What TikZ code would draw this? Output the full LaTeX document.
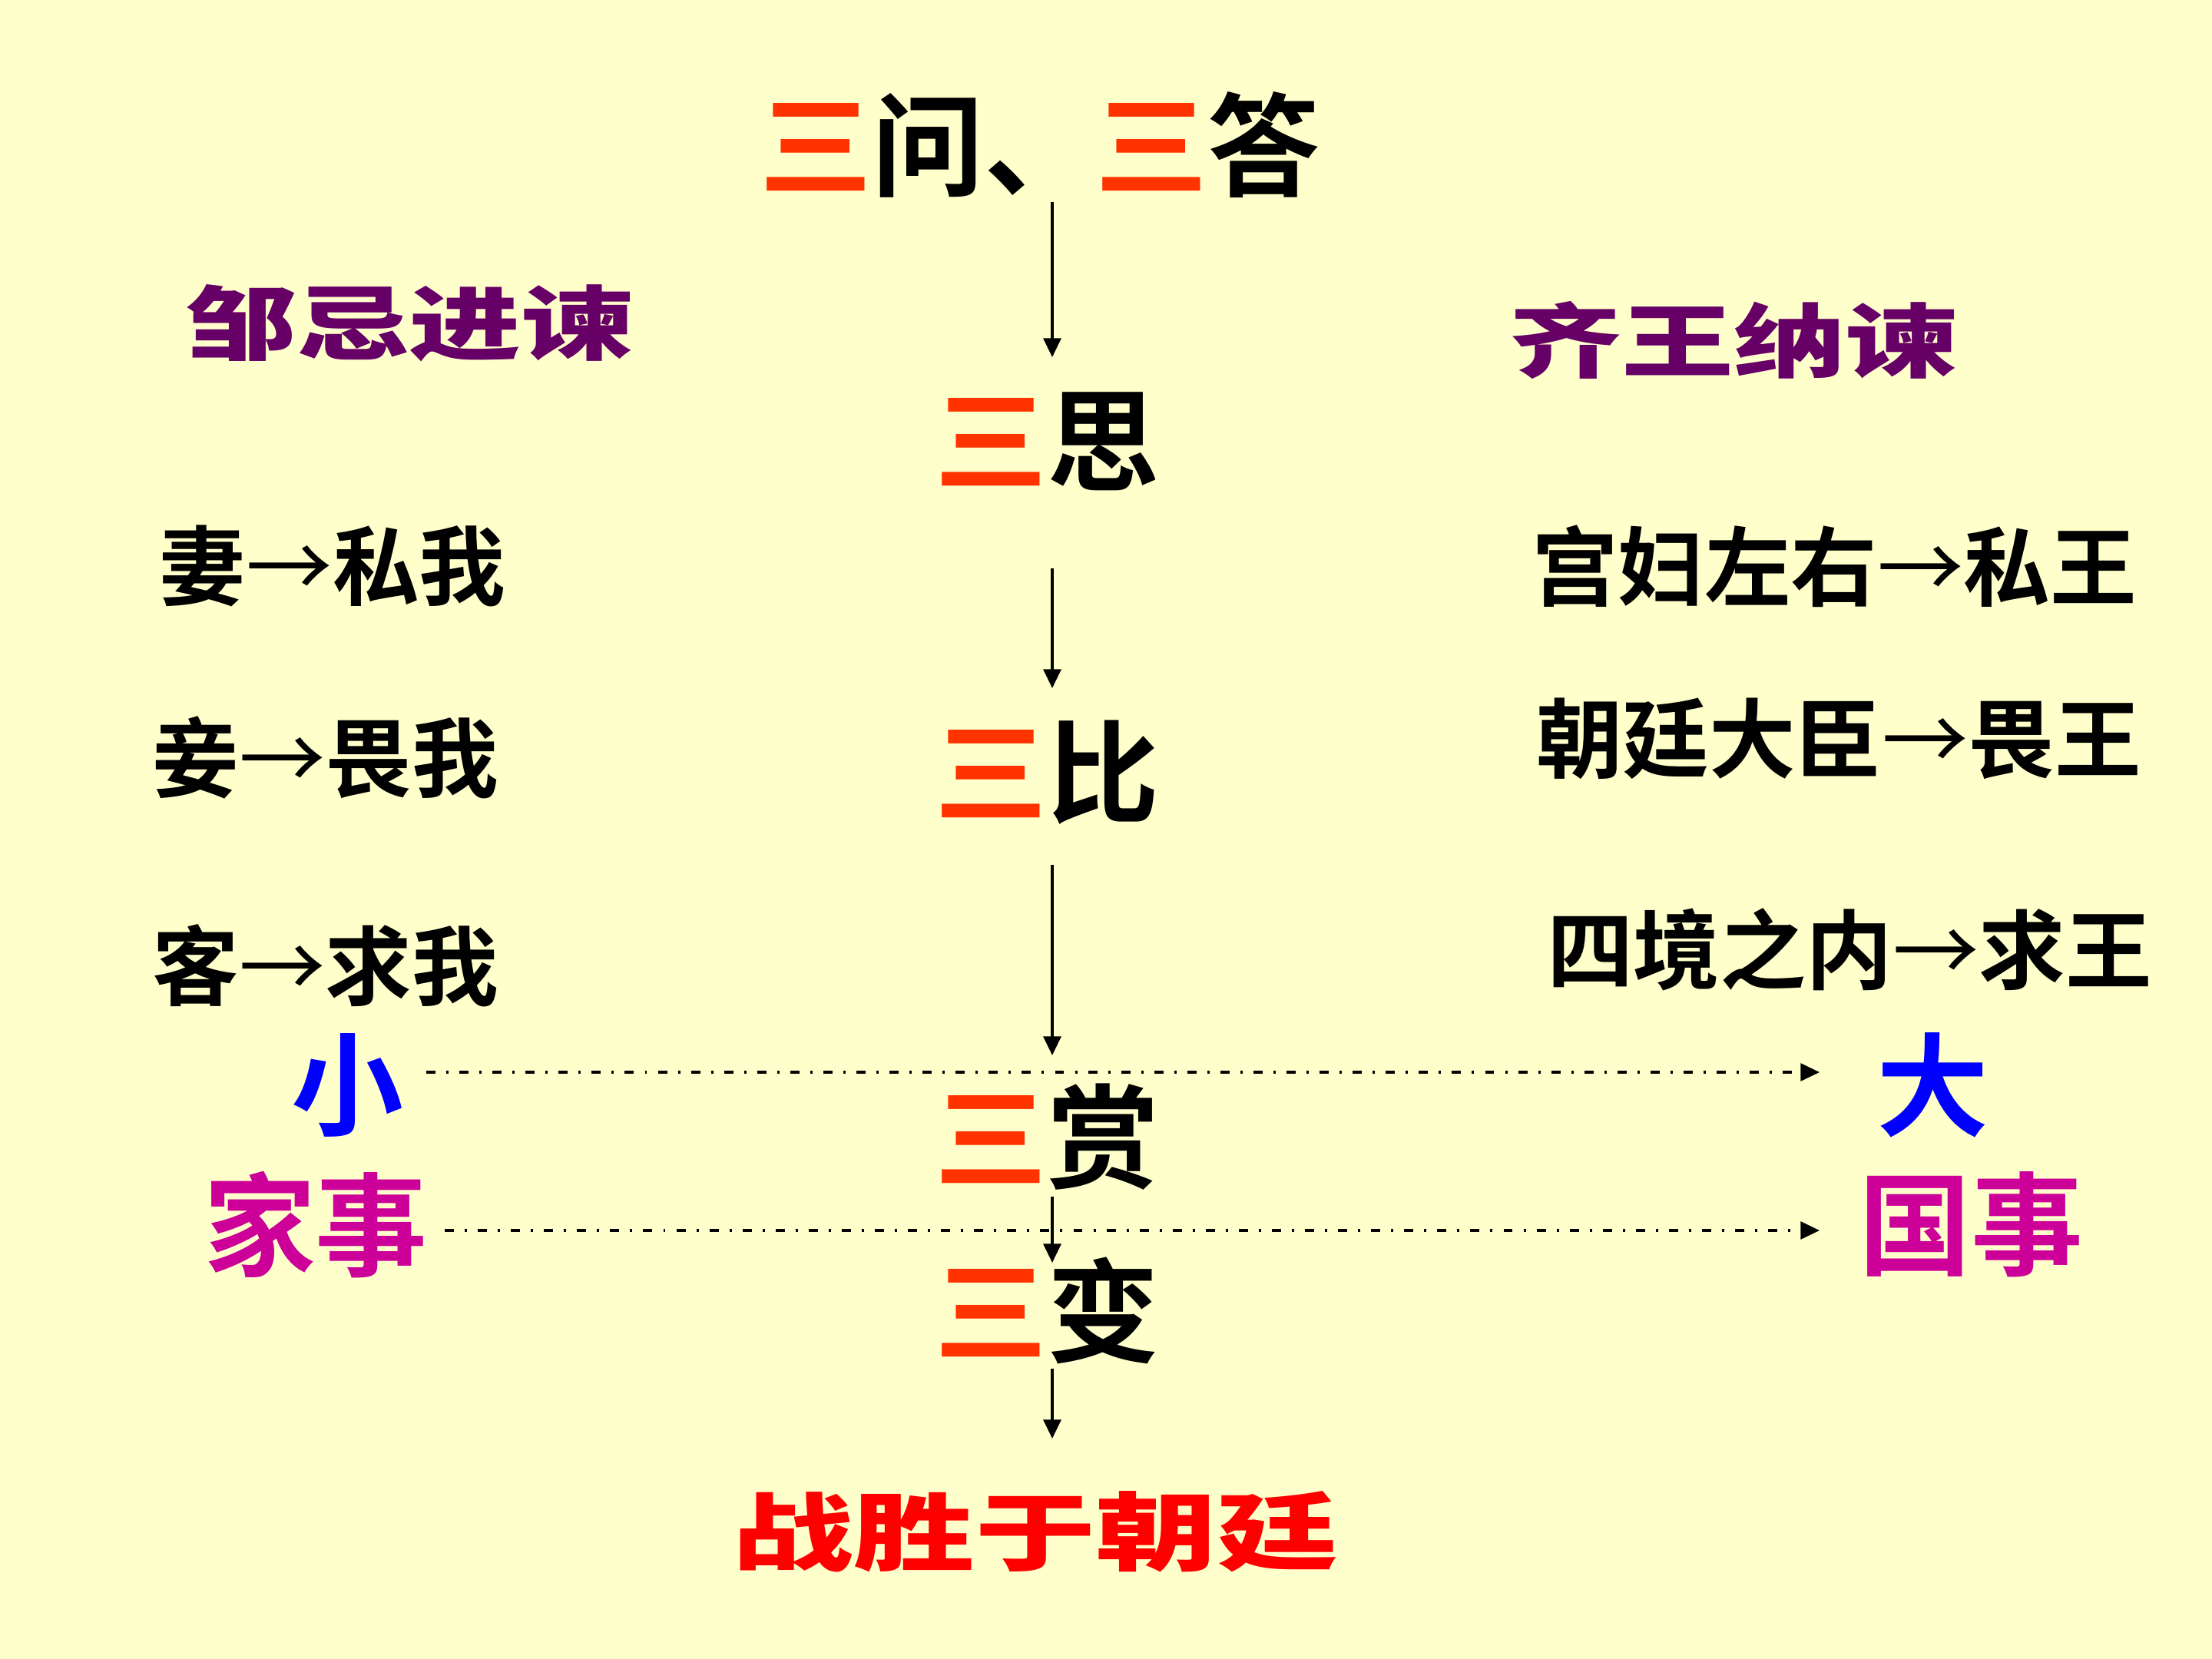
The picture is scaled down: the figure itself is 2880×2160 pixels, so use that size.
\documentclass[tikz,border=0pt]{standalone}
\usepackage{fontspec}
\usepackage{graphicx}
\usetikzlibrary{arrows.meta}
\newfontfamily\cjk{Noto Sans CJK SC Bold}
\newfontfamily\cjkreg{Noto Sans CJK SC}
\newfontfamily\cjkblack{Noto Sans CJK SC Black}
\definecolor{bg}{HTML}{FFFFCC}
\definecolor{sanred}{HTML}{FF3300}
\definecolor{purp}{HTML}{660066}
\definecolor{mag}{HTML}{CC0099}
\definecolor{blu}{HTML}{0000FF}
\definecolor{winred}{HTML}{FF0000}
\newcommand{\san}{{\color{sanred}三}}
\newcommand{\arr}{{\cjkreg →}}
\newcommand{\fancytext}[2]{\scalebox{1}[0.72]{\cjkblack\fontsize{41.5}{48}\selectfont\color{#1}#2}}
\begin{document}
\begin{tikzpicture}[x=0.01cm,y=-0.01cm,
  body/.style={font=\cjk\fontsize{32}{36}\selectfont, inner sep=0pt},
  big/.style={font=\cjk\fontsize{41.5}{48}\selectfont, inner sep=0pt},
  fancy/.style={inner sep=0pt},
  flow/.style={-{Triangle[length=7pt,width=6.5pt]}, line width=1pt},
  link/.style={-{Triangle[length=7pt,width=6.5pt]}, line width=0.9pt,
    dash pattern=on 3.4pt off 4pt on 0.85pt off 4pt},
]
\path[fill=bg,use as bounding box] (0,0) rectangle (2880,2160);

\node[big] (title) at (1354,189) {\san 问、\san 答};
\node[fancy] (zou) at (533,421) {\fancytext{purp}{邹忌进谏}};
\node[fancy] (qi) at (2257,443) {\fancytext{purp}{齐王纳谏}};

\node[big] (si) at (1363,575) {\san 思};
\node[big] (bi) at (1363,1006) {\san 比};
\node[big] (shang) at (1363,1480) {\san 赏};
\node[big] (bian) at (1363,1706) {\san 变};

\node[body] (l1) at (433,737) {妻\arr 私我};
\node[body] (l2) at (424,986) {妾\arr 畏我};
\node[body] (l3) at (424,1257) {客\arr 求我};
\node[body] (r1) at (2388,737) {宫妇左右\arr 私王};
\node[body] (r2) at (2394,962) {朝廷大臣\arr 畏王};
\node[body] (r3) at (2408,1236) {四境之内\arr 求王};

\node[big,text=blu] (xiao) at (452,1413) {小};
\node[big,text=blu] (da) at (2516,1413) {大};
\node[big,text=mag] (jia) at (411,1594) {家事};
\node[big,text=mag] (guo) at (2566,1594) {国事};

\node[fancy] (win) at (1348,1994) {\scalebox{1.08}[0.76]{\cjkblack\fontsize{41.5}{48}\selectfont\color{winred}战胜于朝廷}};

% vertical connectors
\coordinate (a1s) at (1370,263);  \coordinate (a1e) at (1370,465);
\coordinate (a2s) at (1370,740);  \coordinate (a2e) at (1370,896);
\coordinate (a3s) at (1370,1126); \coordinate (a3e) at (1370,1374);
\coordinate (a4s) at (1370,1558); \coordinate (a4e) at (1370,1644);
\coordinate (a5s) at (1370,1782); \coordinate (a5e) at (1370,1873);
\draw[flow] (a1s) -- (a1e);
\draw[flow] (a2s) -- (a2e);
\draw[flow] (a3s) -- (a3e);
\draw[flow] (a4s) -- (a4e);
\draw[flow] (a5s) -- (a5e);

% horizontal dash-dot connectors
\coordinate (h1s) at (555,1396);  \coordinate (h1e) at (2369,1396);
\coordinate (h2s) at (579,1602);  \coordinate (h2e) at (2369,1602);
\draw[link] (h1s) -- (h1e);
\draw[link] (h2s) -- (h2e);
\end{tikzpicture}
\end{document}
